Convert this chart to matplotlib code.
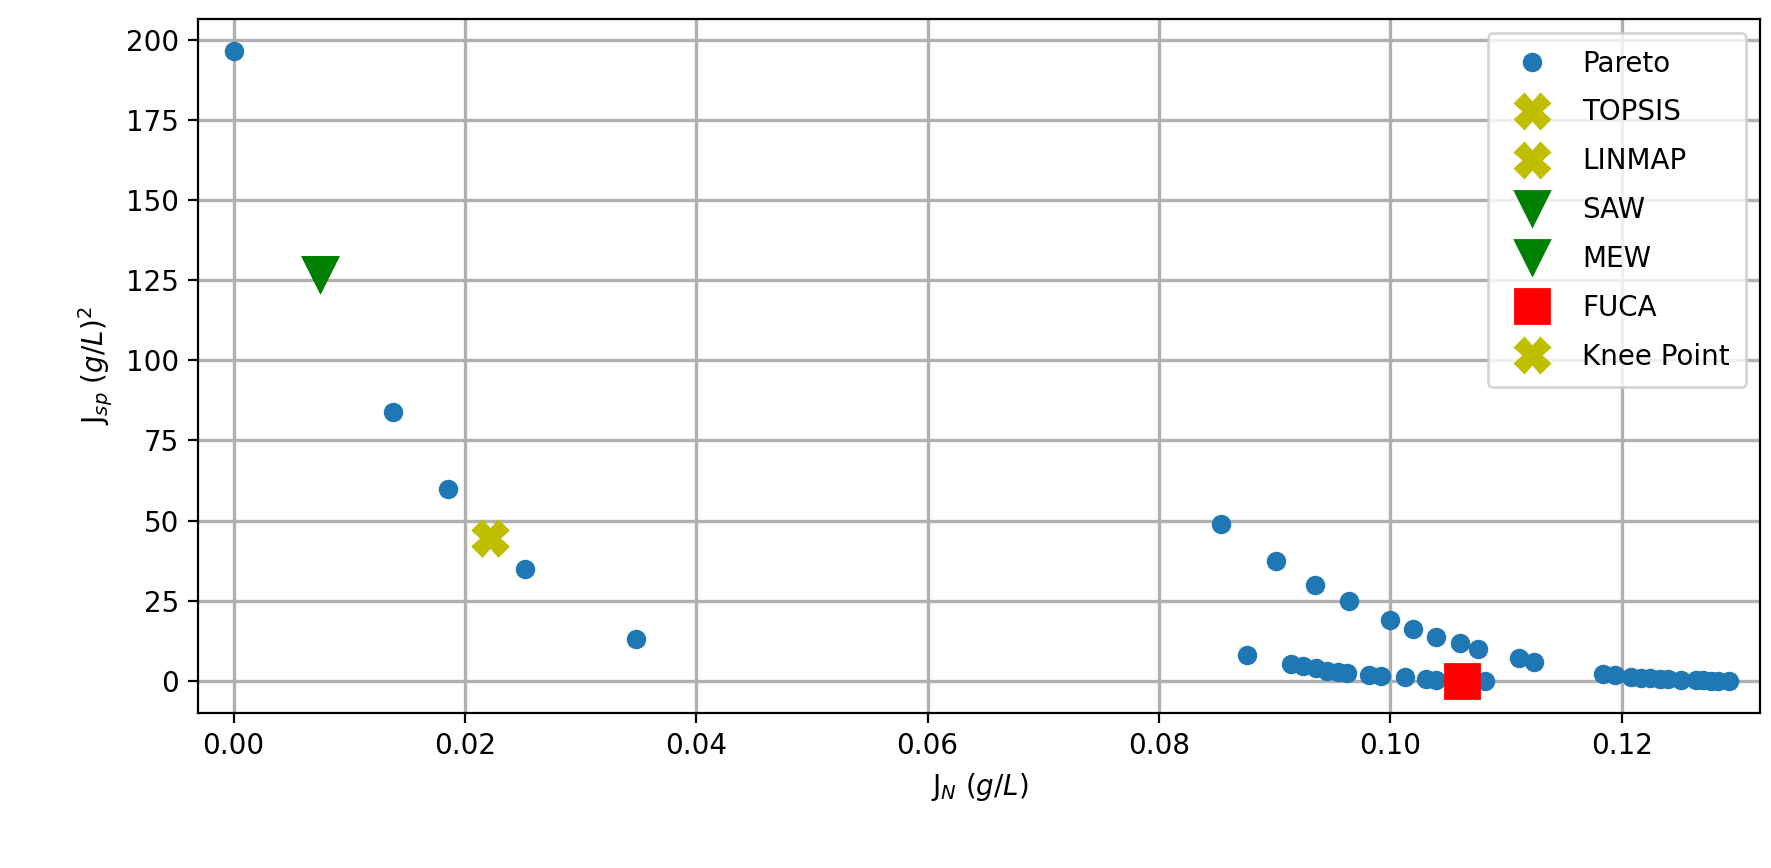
import matplotlib
matplotlib.use('Agg')
import matplotlib.pyplot as plt

# Pareto front
pareto_x = [0.0, 0.0138, 0.0185, 0.0252, 0.0348,
            0.0854, 0.0876, 0.0901, 0.0935, 0.0964, 0.1000, 0.1020, 0.1040, 0.1060, 0.1076, 0.1111, 0.1124,
            0.0914, 0.0925, 0.0936, 0.0945, 0.0955, 0.0963, 0.0982, 0.0992, 0.1013, 0.1031, 0.1040, 0.1082,
            0.1184, 0.1194, 0.1208, 0.1217, 0.1225, 0.1233, 0.1240, 0.1251, 0.1264, 0.1270, 0.1277, 0.1283, 0.1293]
pareto_y = [196.5, 84, 60, 35, 13,
            49, 8, 37.5, 30, 25, 19, 16.3, 13.8, 11.7, 10, 7, 6,
            5.3, 4.6, 3.9, 3.2, 2.8, 2.5, 1.8, 1.5, 1.1, 0.5, 0.4, 0.1,
            2.2, 1.8, 1.2, 1.0, 0.8, 0.7, 0.5, 0.4, 0.2, 0.15, 0.1, 0.05, 0.0]

knee = (0.0222, 44.6)
saw = (0.0075, 127)
fuca = (0.1062, 0.0)

fig, ax = plt.subplots(figsize=(8.855, 4.34), dpi=200)
ax.plot(pareto_x, pareto_y, 'o', color='tab:blue', label='Pareto')
ax.plot(*knee, 'X', color='y', markersize=12, label='TOPSIS')
ax.plot(*knee, 'X', color='y', markersize=12, label='LINMAP')
ax.plot(*saw, 'v', color='g', markersize=12, label='SAW')
ax.plot(*saw, 'v', color='g', markersize=12, label='MEW')
ax.plot(*fuca, 's', color='r', markersize=12, label='FUCA')
ax.plot(*knee, 'X', color='y', markersize=12, label='Knee Point')

ax.set_xlim(-0.00304, 0.132)
ax.set_ylim(-9.9, 206.4)
ax.grid(True, color='#b0b0b0', linewidth=1.2)
ax.set_axisbelow(True)
ax.set_xlabel('J$_N$ $(g/L)$')
ax.set_ylabel('J$_{sp}$ $(g/L)^2$')
ax.legend(loc='upper right', borderpad=0.6, labelspacing=0.75)
fig.subplots_adjust(left=0.112, right=0.994, top=0.978, bottom=0.179)
fig.savefig('out.png')
